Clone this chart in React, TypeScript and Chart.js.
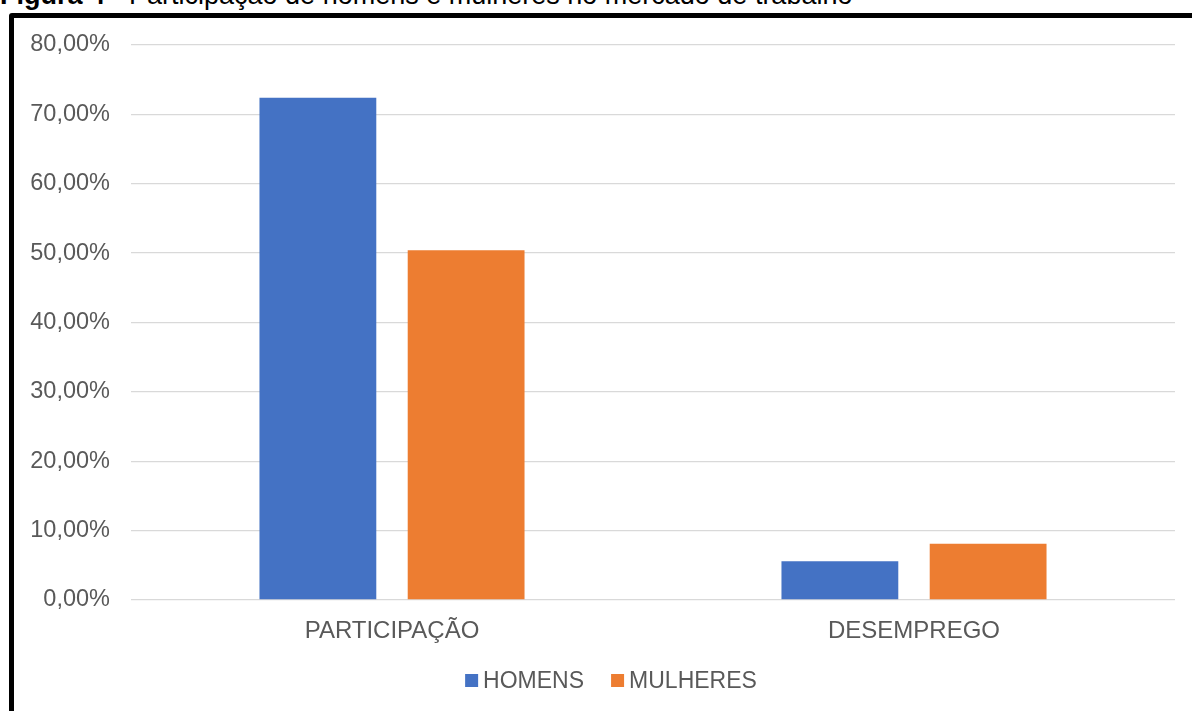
import React, { useEffect, useRef } from "react";
import { Chart, registerables } from "chart.js";

Chart.register(...registerables);

const categories = ["PARTICIPAÇÃO", "DESEMPREGO"];
const seriesNames = ["HOMENS", "MULHERES"];
const homensValues = [72.4, 5.6];
const mulheresValues = [50.4, 8.1];
const seriesColors = ["#4472C4", "#ED7D31"];
const yMin = 0;
const yMax = 80;
const yStep = 10;

const FONT = '"Liberation Sans", Arial, sans-serif';
const TEXT_COLOR = "#595959";

const legendPlugin = {
  id: "customLegend",
  afterDraw(chart: any) {
    const ctx = chart.ctx;
    ctx.save();
    ctx.font = `23px ${FONT}`;
    ctx.textBaseline = "alphabetic";
    ctx.textAlign = "left";
    const box = 13;
    const gap = 5;
    const spacing = 27;
    const items = chart.data.datasets.map((ds: any) => ({
      label: ds.label,
      color: ds.backgroundColor,
      w: ctx.measureText(ds.label).width,
    }));
    const total =
      items.reduce((s: number, it: any) => s + box + gap + it.w, 0) +
      spacing * (items.length - 1);
    let x = 611 - total / 2;
    const boxTop = 674;
    const baseline = 687.5;
    for (const it of items) {
      ctx.fillStyle = it.color;
      ctx.fillRect(x, boxTop, box, box);
      ctx.fillStyle = TEXT_COLOR;
      ctx.fillText(it.label, x + box + gap, baseline);
      x += box + gap + it.w + spacing;
    }
    ctx.restore();
  },
};

export default function App() {
  const canvasRef = useRef<HTMLCanvasElement | null>(null);

  useEffect(() => {
    if (!canvasRef.current) return;
    const chart = new Chart(canvasRef.current, {
      type: "bar",
      data: {
        labels: categories,
        datasets: [
          {
            label: seriesNames[0],
            data: homensValues,
            backgroundColor: seriesColors[0],
            categoryPercentage: 0.568,
            barPercentage: 0.788,
          },
          {
            label: seriesNames[1],
            data: mulheresValues,
            backgroundColor: seriesColors[1],
            categoryPercentage: 0.568,
            barPercentage: 0.788,
          },
        ],
      },
      options: {
        animation: false,
        responsive: false,
        devicePixelRatio: 1,
        layout: { padding: { left: 0, right: 17, top: 45, bottom: 0 } },
        plugins: {
          legend: { display: false },
          tooltip: { enabled: false },
          title: { display: false },
        },
        scales: {
          x: {
            grid: { display: false, drawTicks: false },
            border: { display: false },
            ticks: {
              color: TEXT_COLOR,
              font: { family: FONT, size: 24 },
              padding: 17,
            },
            afterFit: (scale: any) => {
              scale.height = 111;
            },
          },
          y: {
            min: yMin,
            max: yMax,
            grid: { color: "#d9d9d9", lineWidth: 1.3, drawTicks: false },
            border: { display: false },
            ticks: {
              stepSize: yStep,
              color: TEXT_COLOR,
              font: { family: FONT, size: 23.5 },
              padding: 21,
              callback: (v: any) =>
                Number(v).toFixed(2).replace(".", ",") + "%",
            },
            afterFit: (scale: any) => {
              scale.width = 131;
            },
          },
        },
      },
      plugins: [legendPlugin],
    });
    return () => chart.destroy();
  }, []);

  return (
    <div
      style={{
        position: "fixed",
        left: 0,
        top: 0,
        width: 1192,
        height: 711,
        overflow: "hidden",
        background: "#ffffff",
      }}
    >
      <div
        style={{
          position: "absolute",
          left: 0,
          top: -17.8,
          font: `27px/1 ${FONT}`,
          whiteSpace: "nowrap",
          color: "#000",
        }}
      >
        <b>Figura 4</b> - Participação de homens e mulheres no mercado de trabalho
      </div>
      <div
        style={{
          position: "absolute",
          left: 9,
          top: 13,
          width: 1400,
          height: 900,
          border: "5px solid #000",
          borderRadius: 3,
          boxSizing: "border-box",
        }}
      />
      <canvas
        ref={canvasRef}
        width={1192}
        height={711}
        style={{ position: "absolute", left: 0, top: 0, display: "block" }}
      />
    </div>
  );
}
